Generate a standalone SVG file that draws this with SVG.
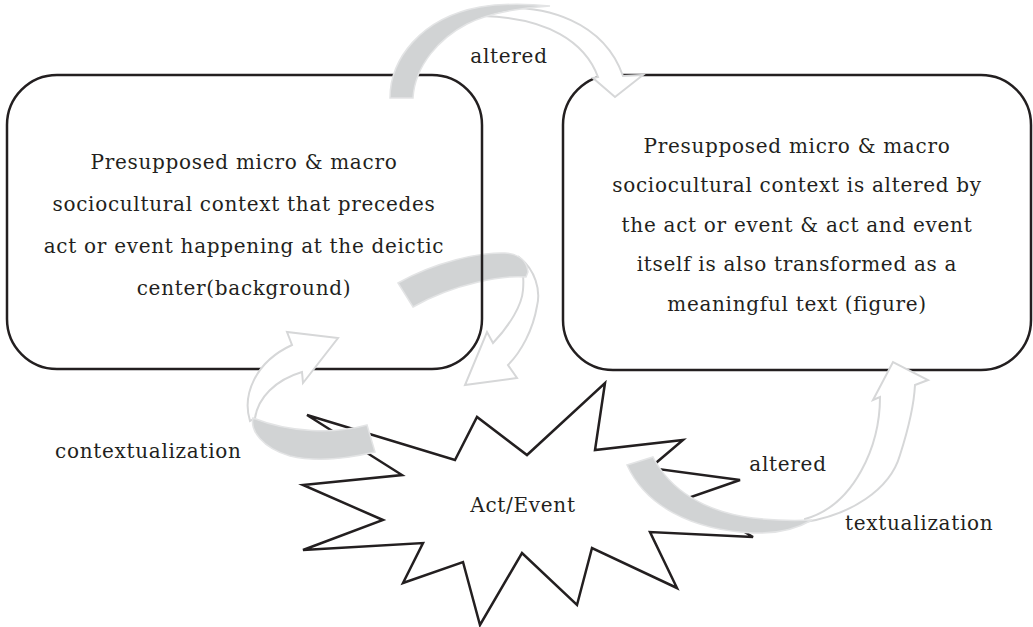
<svg xmlns="http://www.w3.org/2000/svg" width="1033" height="627" viewBox="0 0 1033 627">
<style>
.box{fill:none;stroke:#231f20;stroke-width:2.5}
.star{fill:#fff;stroke:#231f20;stroke-width:2.5;stroke-linejoin:miter}
.back{fill:#d1d3d4;stroke:#e3e4e5;stroke-width:1.5}
.front{fill:#fff;stroke:#d6d7d8;stroke-width:2;stroke-linejoin:miter}
text{font-family:"DejaVu Serif",serif;font-size:20px;fill:#231f20;letter-spacing:0.7px}
.c{text-anchor:middle}
</style>
<rect width="1033" height="627" fill="#fff"/>
<g id="node-act-event">
<polygon class="star" points="605,383 595,450 683,440 650,468 740,480 688,498 753,537 650,532 677,588 592,548 577,605 522,553 480,625 463,562 403,583 423,543 303,550 383,520 303,485 402,475 307,415 455,460 477,417 527,455"/>
<text class="c" x="523" y="512">Act/Event</text>
</g>
<g id="connector-contextualization-back">
<path class="front" d="M520,258 C535,270 541,290 537,306 C533,330 521,352 508,365 L517,378 L465,385 L487,332 L493,343 C510,325 522,305 523,290 C524,278 523,268 520,258 Z"/>
<path class="back" d="M398,283 C435,262 480,252 505,253 C520,254 527,262 528,272 L526,277 C505,275 455,283 413,307 Z"/>
</g>
<g id="node-background">
<rect class="box" x="7" y="75" width="475" height="294" rx="50" ry="50"/>
<text class="c" x="244" y="169">Presupposed micro &amp; macro</text>
<text class="c" x="244" y="211">sociocultural context that precedes</text>
<text class="c" x="244" y="253">act or event happening at the deictic</text>
<text class="c" x="244" y="295">center(background)</text>
</g>
<g id="node-figure">
<rect class="box" x="563" y="75" width="468" height="295" rx="50" ry="50"/>
<text class="c" x="797" y="153">Presupposed micro &amp; macro</text>
<text class="c" x="797" y="192">sociocultural context is altered by</text>
<text class="c" x="797" y="232">the act or event &amp; act and event</text>
<text class="c" x="797" y="271">itself is also transformed as a</text>
<text class="c" x="797" y="311">meaningful text (figure)</text>
</g>
<g id="connectors">
<g id="connector-altered-top">
<path class="front" d="M478,10 C550,0 605,25 623,76 L643,75 L615,97 L593,78 L598,77 C585,42 548,18 483,16 Z"/>
<path class="back" d="M390,98 C390,60 420,18 480,7 C505,3 530,4 550,6 C520,8 490,12 467,24 C440,38 415,65 413,98 Z"/>
</g>
<g id="connector-contextualization">
<path class="front" d="M250,421 C242,395 255,362 292,345 L287,332 L338,338 L303,383 L302,372 C275,380 258,398 255,418 Z"/>
<path class="back" d="M367,425 C335,434 290,433 253,418 C250,430 262,448 290,456 C320,463 350,458 375,452 Z"/>
</g>
<g id="connector-textualization">
<path class="front" d="M805,522 C850,515 890,490 900,455 C908,430 914,405 915,385 L928,380 L893,362 L873,400 L880,397 C880,445 855,505 805,519 Z"/>
<path class="back" d="M627,465 C645,505 690,530 753,533 C780,534 800,527 812,520 C790,521 770,520 753,518 C705,512 670,490 653,457 Z"/>
</g>
</g>
<g id="labels">
<text class="c" x="509" y="63">altered</text>
<text x="55" y="458">contextualization</text>
<text class="c" x="788" y="471">altered</text>
<text x="845" y="530">textualization</text>
</g>
</svg>
